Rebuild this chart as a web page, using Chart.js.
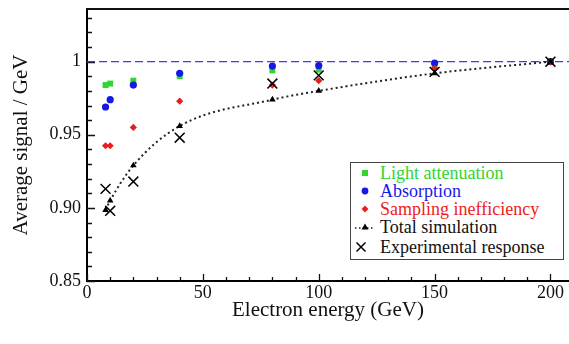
<!DOCTYPE html>
<html>
<head>
<meta charset="utf-8">
<script src="https://cdn.jsdelivr.net/npm/chart.js@4.4.1/dist/chart.umd.min.js"></script>
<style>
  html, body { margin: 0; padding: 0; background: #fff; }
  #wrap { position: relative; width: 569px; height: 344px; overflow: hidden; }
  #legend {
    position: absolute; left: 350px; top: 162px; width: 214px; height: 98px;
    border: 1px solid #444; background: #fff; box-sizing: border-box;
    font-family: "Liberation Serif", "Times New Roman", Times, "DejaVu Serif", "Noto Serif", serif; font-size: 18px;
    padding-top: 1px;
  }
  #legend .row { position: relative; height: 18px; line-height: 18px; padding-left: 29px; white-space: nowrap; }
  #legend .row svg { position: absolute; left: 4px; top: 3px; }
  #legend .row.last { margin-top: 2px; }
</style>
</head>
<body>
<div id="wrap">
  <canvas id="chart" width="569" height="344"></canvas>
  <div id="legend"></div>
</div>
<script>
// Energie-Scan: mittleres Signal / GeV gegen Elektronenenergie
const energies = [8, 10, 20, 40, 80, 100, 150, 200];
const lightAtt = [0.984, 0.985, 0.987, 0.990, 0.994, 0.9945, 0.997, 1.0];
const absorption = [0.969, 0.974, 0.984, 0.992, 0.997, 0.9973, 0.999, 1.0];
const sampling = [0.9425, 0.9425, 0.955, 0.973, 0.984, 0.987, 0.9955, 1.0];
const totalSim = [0.8985, 0.905, 0.929, 0.956, 0.974, 0.980, 0.992, 1.0];
const experiment = [0.913, 0.898, 0.918, 0.948, 0.985, 0.9906, 0.993, 1.0];

// Referenzlinie bei 1
const refLineX = [0, 208];
const refLineY = [1, 1];

const xTickValues = [0, 50, 100, 150, 200];
const yTickValues = [0.85, 0.90, 0.95, 1.0];
const yTickLabels = ["0.85", "0.90", "0.95", "1"];

const X_MIN = 0, X_MAX = 208;
const Y_MIN = 0.85, Y_MAX = 1.036;

const SERIF = "'Liberation Serif', 'Times New Roman', Times, 'DejaVu Serif', 'Noto Serif', serif";
const GREEN = "#2fd62f";
const BLUE = "#1818e6";
const RED = "#ec1c1c";

function pts(ys) {
    return energies.map((e, i) => ({ x: e, y: ys[i] }));
}

// kleine Striche nach innen + obere Rahmenlinie
const frameTicks = {
    id: "frameTicks",
    beforeDatasetsDraw(chart) {
        const { ctx, chartArea: a, scales: { x, y } } = chart;
        ctx.save();
        ctx.strokeStyle = "#111";
        ctx.lineWidth = 1.3;
        ctx.beginPath();
        for (let v = X_MIN; v <= X_MAX; v += 10) {
            const px = Math.round(x.getPixelForValue(v)) + 0.5;
            const len = v % 50 === 0 ? 7 : 4;
            ctx.moveTo(px, a.bottom);
            ctx.lineTo(px, a.bottom - len);
        }
        for (let i = 0; i <= 18; i++) {
            const v = Y_MIN + i * 0.01;
            const py = Math.round(y.getPixelForValue(v)) + 0.5;
            const len = i % 5 === 0 ? 8 : 5;
            ctx.moveTo(a.left, py);
            ctx.lineTo(a.left + len, py);
        }
        ctx.stroke();
        ctx.lineWidth = 2;
        ctx.beginPath();
        ctx.moveTo(a.left - 1, a.top);
        ctx.lineTo(a.right, a.top);
        ctx.stroke();
        ctx.restore();
    },
};

new Chart(document.getElementById("chart"), {
    type: "scatter",
    data: {
        datasets: [
            {
                label: "ref",
                data: refLineX.map((xv, i) => ({ x: xv, y: refLineY[i] })),
                showLine: true,
                borderColor: "#3c3cf0",
                borderWidth: 1.2,
                borderDash: [8, 4],
                pointRadius: 0,
                order: 6,
            },
            {
                label: "Light attenuation",
                data: pts(lightAtt),
                pointStyle: "rect",
                pointRadius: 4.2,
                backgroundColor: GREEN,
                borderColor: GREEN,
                borderWidth: 0,
                order: 5,
            },
            {
                label: "Absorption",
                data: pts(absorption),
                pointStyle: "circle",
                pointRadius: 3.6,
                backgroundColor: BLUE,
                borderColor: BLUE,
                borderWidth: 0,
                order: 4,
            },
            {
                label: "Sampling inefficiency",
                data: pts(sampling),
                pointStyle: "rectRot",
                pointRadius: 3.6,
                backgroundColor: RED,
                borderColor: RED,
                borderWidth: 0,
                order: 3,
            },
            {
                label: "Total simulation",
                data: pts(totalSim),
                showLine: true,
                cubicInterpolationMode: "monotone",
                borderColor: "#222",
                borderWidth: 2,
                borderDash: [2, 3],
                pointStyle: "triangle",
                pointRadius: 3.8,
                pointBackgroundColor: "#000",
                pointBorderColor: "#000",
                pointBorderWidth: 0,
                order: 2,
            },
            {
                label: "Experimental response",
                data: pts(experiment),
                pointStyle: "crossRot",
                pointRadius: 7,
                pointBorderColor: "#000",
                pointBorderWidth: 1.5,
                order: 1,
            },
        ],
    },
    options: {
        responsive: false,
        animation: false,
        layout: { autoPadding: false, padding: { top: 9, right: 0, bottom: 0, left: 0 } },
        plugins: { legend: { display: false }, tooltip: { enabled: false } },
        scales: {
            x: {
                type: "linear",
                min: X_MIN,
                max: X_MAX,
                afterFit: (s) => { s.height = 63; s.paddingLeft = 0; s.paddingRight = 0; },
                afterBuildTicks: (s) => { s.ticks = xTickValues.map((v) => ({ value: v })); },
                grid: { display: false, drawTicks: false },
                border: { display: true, color: "#000", width: 2 },
                ticks: { padding: 1, color: "#111", font: { family: SERIF, size: 18 } },
                title: {
                    display: true,
                    text: "Electron energy (GeV)",
                    color: "#111",
                    font: { family: SERIF, size: 21 },
                    padding: { top: 0, bottom: 21 },
                },
            },
            y: {
                type: "linear",
                min: Y_MIN,
                max: Y_MAX,
                afterFit: (s) => { s.width = 87; s.paddingTop = 0; s.paddingBottom = 0; },
                afterBuildTicks: (s) => { s.ticks = yTickValues.map((v) => ({ value: v })); },
                grid: { display: false, drawTicks: false },
                border: { display: true, color: "#000", width: 2 },
                ticks: {
                    padding: 6,
                    color: "#111",
                    font: { family: SERIF, size: 18 },
                    callback: (v, i) => yTickLabels[i],
                },
                title: {
                    display: true,
                    text: "Average signal / GeV",
                    color: "#111",
                    font: { family: SERIF, size: 21 },
                    padding: { top: 9, bottom: 0 },
                },
            },
        },
    },
    plugins: [frameTicks],
});

// Legende als HTML-Kasten im Diagramm
const legendItems = [
    { text: "Light attenuation", color: GREEN, mark: '<rect x="7" y="3" width="6" height="6" fill="' + GREEN + '"/>' },
    { text: "Absorption", color: BLUE, mark: '<circle cx="10" cy="6" r="3.4" fill="' + BLUE + '"/>' },
    { text: "Sampling inefficiency", color: RED, mark: '<path d="M10 2.6 L13.4 6 L10 9.4 L6.6 6 Z" fill="' + RED + '"/>' },
    { text: "Total simulation", color: "#111", mark: '<line x1="0" y1="7" x2="20" y2="7" stroke="#222" stroke-width="1.5" stroke-dasharray="1.5 2.5"/><path d="M10 2.5 L13.5 8.5 L6.5 8.5 Z" fill="#000"/>' },
    { text: "Experimental response", color: "#111", mark: '<path d="M1.5 1.5 L10.5 10.5 M10.5 1.5 L1.5 10.5" stroke="#000" stroke-width="1.5"/>', last: true },
];
document.getElementById("legend").innerHTML = legendItems.map((it) =>
    '<div class="row' + (it.last ? ' last' : '') + '" style="color:' + it.color + '">' +
    '<svg width="22" height="12" viewBox="0 0 22 12">' + it.mark + '</svg>' + it.text + '</div>'
).join("");
</script>
</body>
</html>
